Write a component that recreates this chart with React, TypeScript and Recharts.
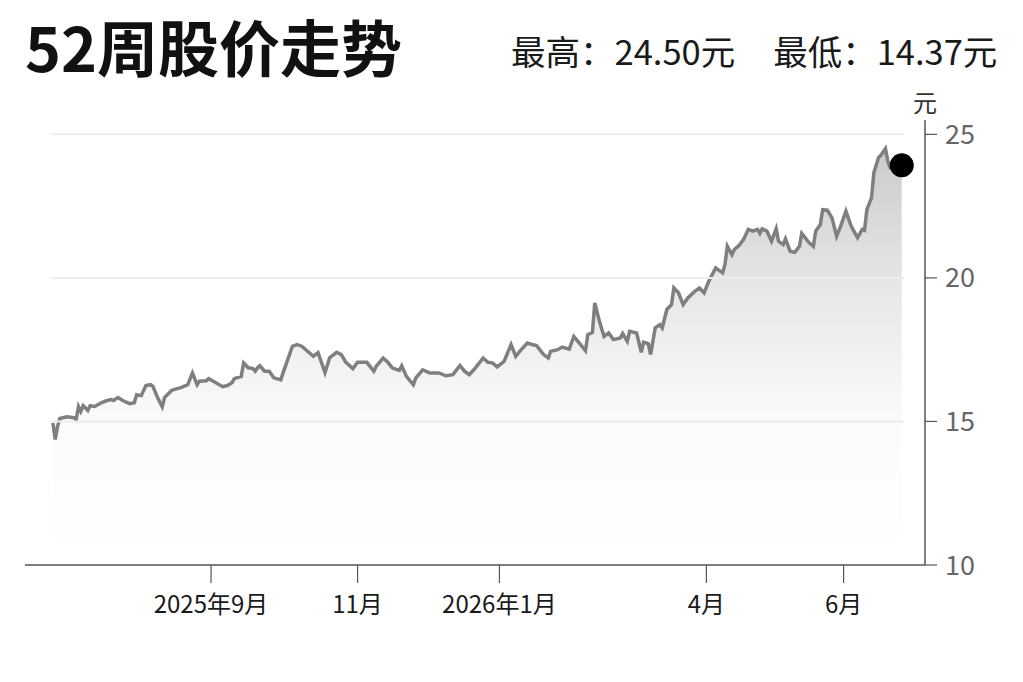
import React from 'react';
import {
  ComposedChart,
  Area,
  XAxis,
  YAxis,
  ReferenceLine,
  ReferenceDot,
} from 'recharts';

// days since the start of the 52-week window
const days = [
  0, 1, 2, 3, 6, 9, 10, 11, 12, 13, 15, 16, 18, 21, 23, 25, 26, 28, 30, 33, 35, 36, 38, 40, 42, 43,
  45, 47, 48, 51, 52, 55, 58, 60, 62, 63, 66, 67, 69, 73, 75, 77, 78, 81, 82, 84, 86, 87, 88, 89,
  91, 93, 95, 98, 99, 103, 105, 107, 109, 112, 114, 117, 119, 122, 124, 126, 129, 131, 135, 138,
  139, 142, 144, 146, 149, 150, 152, 155, 156, 159, 162, 166, 169, 172, 175, 177, 179, 181, 185,
  187, 189, 191, 194, 197, 199, 201, 204, 206, 208, 211, 213, 214, 217, 219, 222, 224, 226, 229,
  230, 232, 233, 235, 237, 239, 241, 244, 245, 247, 248, 251, 253, 254, 256, 257, 259, 261, 262,
  264, 266, 267, 269, 271, 273, 276, 278, 280, 282, 285, 286, 288, 289, 290, 292, 293, 295, 297,
  299, 301, 303, 304, 305, 307, 309, 311, 312, 314, 315, 317, 319, 321, 322, 325, 327, 328, 330,
  331, 333, 335, 337, 339, 341, 343, 344, 346, 348, 349, 350, 352, 353, 355, 356, 358, 359, 360,
  365,
];

const prices = [
  14.95, 14.37, 14.83, 15.1, 15.16, 15.13, 15.06, 15.52, 15.35, 15.55, 15.38, 15.55, 15.52, 15.66,
  15.72, 15.76, 15.73, 15.83, 15.73, 15.62, 15.65, 15.93, 15.9, 16.25, 16.28, 16.22, 15.83, 15.51,
  15.83, 16.08, 16.11, 16.18, 16.28, 16.69, 16.28, 16.4, 16.42, 16.49, 16.4, 16.21, 16.25, 16.35,
  16.49, 16.57, 17.04, 16.87, 16.84, 16.75, 16.87, 16.94, 16.75, 16.75, 16.52, 16.45, 16.7, 17.62,
  17.68, 17.62, 17.48, 17.27, 17.4, 16.7, 17.22, 17.41, 17.33, 17.06, 16.84, 17.06, 17.06, 16.75,
  16.92, 17.21, 17.06, 16.86, 16.78, 16.94, 16.57, 16.28, 16.51, 16.8, 16.69, 16.69, 16.59, 16.63,
  16.95, 16.75, 16.63, 16.8, 17.21, 17.06, 17.04, 16.9, 17.09, 17.68, 17.27, 17.47, 17.73, 17.68,
  17.64, 17.33, 17.21, 17.44, 17.5, 17.59, 17.52, 17.96, 17.76, 17.47, 18.02, 18.1, 19.13, 18.49,
  17.96, 18.08, 17.85, 17.91, 18.06, 17.79, 18.14, 18.08, 17.41, 17.76, 17.71, 17.33, 18.26, 18.37,
  18.26, 18.9, 19.07, 19.65, 19.48, 19.07, 19.3, 19.53, 19.65, 19.48, 19.88, 20.35, 20.29, 20.18,
  20.47, 21.1, 20.81, 20.99, 21.13, 21.34, 21.69, 21.63, 21.69, 21.55, 21.71, 21.63, 21.28, 21.71,
  21.28, 21.16, 21.36, 20.93, 20.89, 21.1, 21.55, 21.24, 21.1, 21.63, 21.86, 22.38, 22.36, 22.09,
  21.45, 21.86, 22.33, 21.86, 21.69, 21.4, 21.69, 21.66, 22.38, 22.79, 23.66, 24.19, 24.27, 24.5,
  24.07, 23.84, 23.92,
];

const tickDays = [68, 131, 192, 281, 340];
const tickLabels = ['2025年9月', '11月', '2026年1月', '4月', '6月'];
const priceTicks = [10, 15, 20, 25];
const gridPrices = [15, 20, 25];

const data = days.map((d, i) => ({ day: d, price: prices[i] }));
const lastPoint = data[data.length - 1];

const cjk = '"Noto Sans CJK SC", "Noto Sans", sans-serif';

export default function App() {
  return (
    <div style={{ position: 'absolute', left: 0, top: 0, width: 1023, height: 682, background: '#fff', fontFamily: cjk }}>
      <div style={{ position: 'absolute', left: 25, top: 15, fontSize: 61, fontWeight: 700, lineHeight: 1, color: '#111' }}>
        52周股价走势
      </div>
      <div style={{ position: 'absolute', left: 511, top: 33, fontSize: 34.5, lineHeight: 1, color: '#1a1a1a', whiteSpace: 'nowrap' }}>
        <span>最高：24.50元</span>
        <span style={{ marginLeft: 38 }}>最低：14.37元</span>
      </div>
      <div style={{ position: 'absolute', left: 913, top: 90, fontSize: 24, lineHeight: 1, color: '#333' }}>元</div>

      <ComposedChart
        width={1023}
        height={682}
        data={data}
        margin={{ top: 120, right: 28, bottom: 57, left: 25 }}
        style={{ position: 'absolute', left: 0, top: 0 }}
      >
        <defs>
          <linearGradient id="areaFill" x1="0" y1="0" x2="0" y2="1">
            <stop offset="0%" stopColor="#cbcbcb" />
            <stop offset="32%" stopColor="#e6e6e6" />
            <stop offset="66%" stopColor="#fbfbfb" />
            <stop offset="100%" stopColor="#ffffff" />
          </linearGradient>
        </defs>
        <XAxis
          dataKey="day"
          type="number"
          domain={[-12, 375]}
          ticks={tickDays}
          tickFormatter={(v) => tickLabels[tickDays.indexOf(v)]}
          axisLine={{ stroke: '#555', strokeWidth: 1.5 }}
          tickLine={{ stroke: '#555', strokeWidth: 1.2 }}
          tickSize={18}
          tickMargin={13}
          tick={{ fill: '#1a1a1a', fontSize: 24, fontFamily: cjk }}
          height={60}
          interval={0}
        />
        <YAxis
          orientation="right"
          domain={[10, 25.5]}
          ticks={priceTicks}
          axisLine={{ stroke: '#555', strokeWidth: 1.5 }}
          tickLine={{ stroke: '#555', strokeWidth: 1.2 }}
          tickSize={12}
          tickMargin={8}
          tick={{ fill: '#666', fontSize: 27, fontFamily: cjk }}
          width={70}
          allowDataOverflow
        />
        {gridPrices.map((p) => (
          <ReferenceLine
            key={p}
            segment={[
              { x: -1, y: p },
              { x: 366, y: p },
            ]}
            stroke="#ededed"
            strokeWidth={2}
          />
        ))}
        <Area
          type="linear"
          dataKey="price"
          stroke="#7f7f7f"
          strokeWidth={3.5}
          fill="url(#areaFill)"
          fillOpacity={1}
          dot={false}
          activeDot={false}
          isAnimationActive={false}
        />
        <ReferenceDot x={lastPoint.day} y={lastPoint.price} r={12} fill="#000" stroke="none" />
      </ComposedChart>
    </div>
  );
}
